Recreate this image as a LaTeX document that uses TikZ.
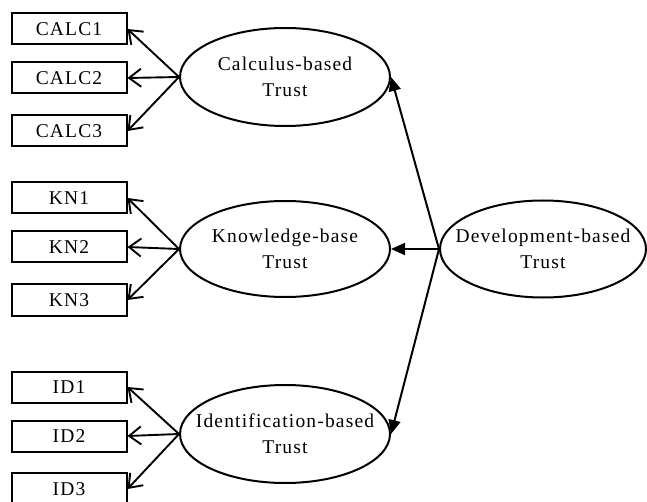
\documentclass[tikz,border=0pt]{standalone}
\usepackage{fontspec}
\setmainfont{Liberation Serif}[LetterSpace=6]
\usetikzlibrary{shapes.geometric,arrows.meta}
\begin{document}
\begin{tikzpicture}[x=1pt,y=-1pt,
  ind/.style={draw,line width=2pt,minimum width=115pt,minimum height=31pt,inner sep=0pt,font=\fontsize{19.5}{22}\selectfont},
  lat/.style={draw,ellipse,line width=2pt,inner sep=0pt},
  txt/.style={align=center,inner sep=0pt,font=\fontsize{19.5}{26}\selectfont},
  load/.style={line width=1.9pt,-{Straight Barb[length=12pt,width=18pt,line width=1.9pt]}},
  path/.style={line width=2pt,-{Triangle[length=14pt,width=12pt]}}]
\useasboundingbox (0,0) rectangle (647,502);
\node[ind] (c1) at (69,29) {CALC1};
\node[ind] (c2) at (69,78) {CALC2};
\node[ind] (c3) at (69,131) {CALC3};
\node[ind] (k1) at (69,198) {KN1};
\node[ind] (k2) at (69,247) {KN2};
\node[ind] (k3) at (69,300) {KN3};
\node[ind] (i1) at (69,387) {ID1};
\node[ind] (i2) at (69,436) {ID2};
\node[ind,minimum height=32pt] (i3) at (69,489) {ID3};
\node[lat,minimum width=210pt,minimum height=98pt] (calc) at (285,77) {};
\node[lat,minimum width=210pt,minimum height=96pt] (know) at (285,249) {};
\node[lat,minimum width=210pt,minimum height=98pt] (iden) at (285,434) {};
\node[lat,minimum width=206pt,minimum height=97pt] (dev) at (543,249) {};
\node[txt] (calct) at (calc) {Calculus-based\\Trust};
\node[txt] (knowt) at (know) {Knowledge-base\\Trust};
\node[txt] (ident) at (iden) {Identification-based\\Trust};
\node[txt] (devt) at (dev) {Development-based\\Trust};
\foreach \s/\t in {calc/c1,calc/c2,calc/c3,know/k1,know/k2,know/k3,iden/i1,iden/i2,iden/i3}
  \draw[load] (\s.west) -- (\t.east);
\draw[path] (dev.west) -- (calc.east);
\draw[path] (dev.west) -- (know.east);
\draw[path] (dev.west) -- (iden.east);
\end{tikzpicture}
\end{document}
